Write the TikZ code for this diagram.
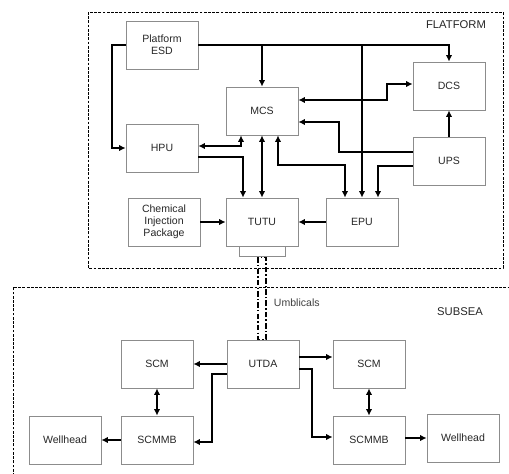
\documentclass[tikz,border=0pt]{standalone}
\usepackage{fontspec}
\setmainfont{Liberation Sans}
\usepackage{tikz}
\usetikzlibrary{arrows.meta,positioning,calc}

\begin{document}
\begin{tikzpicture}[x=0.025cm, y=-0.025cm, >={Latex[length=4.5pt,width=4.5pt]},
  every node/.style={font=\fontsize{7.5}{8.5}\selectfont, text=black!85},
  unit/.style={draw=black!45, line width=0.6pt, minimum width=1.8cm, minimum height=1.2cm, align=center, inner sep=1pt},
  link/.style={line width=1.5pt},
  zone/.style={line width=0.6pt, dash pattern=on 2pt off 1pt},
  umb/.style={line width=0.8pt, dash pattern=on 4pt off 1.5pt on 1pt off 1.5pt}]
\useasboundingbox (0,0) rectangle (509,474);

% zones
\draw[zone] (88,12) rectangle (503,268);
\draw[zone] (13,480) |- (509,287);
\node[font=\fontsize{8}{9}\selectfont] (plat) at (456,25) {FLATFORM};
\node[font=\fontsize{8}{9}\selectfont] (sub) at (460,312) {SUBSEA};

% platform units
\node[unit] (esd) at (162,45) {Platform\\ESD};
\node[unit] (dcs) at (449,86) {DCS};
\node[unit] (mcs) at (262,111) {MCS};
\node[unit] (hpu) at (162,148) {HPU};
\node[unit] (ups) at (449,161) {UPS};
\node[unit] (chem) at (164,222) {Chemical\\Injection\\Package};
\node[unit] (tutu) at (262,222) {TUTU};
\node[unit] (epu) at (362,222) {EPU};
\node[draw=black!45, line width=0.6pt, minimum width=1.15cm, minimum height=0.27cm, inner sep=0pt] (plug) at (262,251.5) {};

% subsea units
\node[unit] (scml) at (157,364) {SCM};
\node[unit] (utda) at (263,364) {UTDA};
\node[unit] (scmr) at (369,364) {SCM};
\node[unit] (welll) at (65,440) {Wellhead};
\node[unit] (mbl) at (157,440) {SCMMB};
\node[unit] (mbr) at (369,440) {SCMMB};
\node[unit] (wellr) at (463,438) {Wellhead};

% platform links
\draw[link,->] (esd.east) -| (dcs.north);
\draw[link,->] (mcs.north |- esd.east) -- (mcs.north);
\draw[link,->] (epu.north |- esd.east) -- (epu.north);
\draw[link,->] (esd.west) -- ++(-14,0) |- (hpu.west);
\draw[link,<->] ($(mcs.east)+(0,-11)$) -- ++(89,0) |- ($(dcs.west)+(0,-2)$);
\draw[link,->] ($(ups.west)+(0,-9)$) -- ++(-74,0) |- ($(mcs.east)+(0,11)$);
\draw[link,->] (ups.north) -- (dcs.south);
\draw[link,->] ($(ups.west)+(0,5)$) -| ($(epu.north)+(16,0)$);
\draw[link,<->] ($(mcs.south)+(-21,0)$) |- ($(hpu.east)+(0,-2)$);
\draw[link,->] ($(hpu.east)+(0,9)$) -| ($(tutu.north)+(-19,0)$);
\draw[link,<->] (mcs.south) -- (tutu.north);
\draw[link,<->] ($(mcs.south)+(16,0)$) -- ++(0,30) -| ($(epu.north)+(-17,0)$);
\draw[link,->] (epu.west) -- (tutu.east);
\draw[link,->] (chem) -- (tutu);

% umbilicals
\draw[umb] ($(plug.south)+(-4,0)$) rectangle ($(utda.north)+(3,0)$);
\node[anchor=west, text=black!75] (umbl) at (269,303) {Umblicals};

% subsea links
\draw[link,->] (utda.west) -- (scml.east);
\draw[link,->] ($(utda.west)+(0,10)$) -- ++(-15,0) |- ($(mbl.east)+(0,2)$);
\draw[link,<->] (scml.south) -- (mbl.north);
\draw[link,->] (mbl.west) -- (welll.east);
\draw[link,->] ($(utda.east)+(0,-7)$) -- ($(scmr.west)+(0,-7)$);
\draw[link,->] ($(utda.east)+(0,5)$) -- ++(13,0) |- ($(mbr.west)+(0,-3)$);
\draw[link,<->] (scmr.south) -- (mbr.north);
\draw[link,->] (mbr.east |- wellr.west) -- (wellr.west);
\end{tikzpicture}
\end{document}
